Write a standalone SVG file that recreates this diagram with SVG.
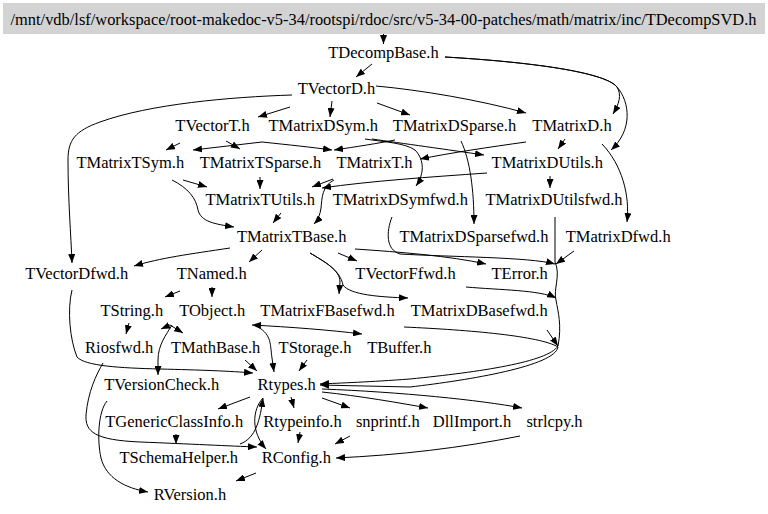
<svg xmlns="http://www.w3.org/2000/svg" width="768" height="514" viewBox="0 0 768 514">
<style>
text{font-family:"Liberation Serif","Times New Roman",serif;font-size:16.5px;fill:#000;text-anchor:middle}
.e{fill:none;stroke:#000;stroke-width:1;marker-end:url(#a)}
</style>
<defs>
<marker id="a" viewBox="0 0 9 7" refX="9" refY="3.5" markerWidth="9" markerHeight="7" markerUnits="userSpaceOnUse" orient="auto-start-reverse">
<path d="M0,0 L9,3.5 L0,7 z" fill="#000"/>
</marker>
</defs>
<rect width="768" height="514" fill="#fff"/>
<g id="n0"><rect x="3" y="3" width="762" height="31" fill="#d3d3d3"/><text x="383.5" y="24.5" textLength="746" lengthAdjust="spacingAndGlyphs">/mnt/vdb/lsf/workspace/root-makedoc-v5-34/rootspi/rdoc/src/v5-34-00-patches/math/matrix/inc/TDecompSVD.h</text></g>
<g id="n1"><text x="383.5" y="57.5">TDecompBase.h</text></g>
<g id="n2"><text x="336.5" y="94.4">TVectorD.h</text></g>
<g id="n3"><text x="212.5" y="131.3">TVectorT.h</text></g>
<g id="n4"><text x="323.3" y="131.3">TMatrixDSym.h</text></g>
<g id="n5"><text x="454.5" y="131.3">TMatrixDSparse.h</text></g>
<g id="n6"><text x="572" y="131.3">TMatrixD.h</text></g>
<g id="n7"><text x="130.3" y="168.2">TMatrixTSym.h</text></g>
<g id="n8"><text x="260.5" y="168.2">TMatrixTSparse.h</text></g>
<g id="n9"><text x="374.5" y="168.2">TMatrixT.h</text></g>
<g id="n10"><text x="547.3" y="168.2">TMatrixDUtils.h</text></g>
<g id="n11"><text x="260.3" y="205.1">TMatrixTUtils.h</text></g>
<g id="n12"><text x="400.3" y="205.1">TMatrixDSymfwd.h</text></g>
<g id="n13"><text x="554" y="205.1">TMatrixDUtilsfwd.h</text></g>
<g id="n14"><text x="291.7" y="242">TMatrixTBase.h</text></g>
<g id="n15"><text x="474" y="242">TMatrixDSparsefwd.h</text></g>
<g id="n16"><text x="618.2" y="242">TMatrixDfwd.h</text></g>
<g id="n17"><text x="76.7" y="278.9">TVectorDfwd.h</text></g>
<g id="n18"><text x="211.7" y="278.9">TNamed.h</text></g>
<g id="n19"><text x="405.5" y="278.9">TVectorFfwd.h</text></g>
<g id="n20"><text x="519.7" y="278.9">TError.h</text></g>
<g id="n21"><text x="131.8" y="315.8">TString.h</text></g>
<g id="n22"><text x="212.2" y="315.8">TObject.h</text></g>
<g id="n23"><text x="327.5" y="315.8">TMatrixFBasefwd.h</text></g>
<g id="n24"><text x="479.2" y="315.8">TMatrixDBasefwd.h</text></g>
<g id="n25"><text x="119.2" y="352.7">Riosfwd.h</text></g>
<g id="n26"><text x="215.7" y="352.7">TMathBase.h</text></g>
<g id="n27"><text x="315" y="352.7">TStorage.h</text></g>
<g id="n28"><text x="399.3" y="352.7">TBuffer.h</text></g>
<g id="n29"><text x="161.7" y="389.6">TVersionCheck.h</text></g>
<g id="n30"><text x="286.7" y="389.6">Rtypes.h</text></g>
<g id="n31"><text x="174.2" y="426.5">TGenericClassInfo.h</text></g>
<g id="n32"><text x="302.5" y="426.5">Rtypeinfo.h</text></g>
<g id="n33"><text x="387.8" y="426.5">snprintf.h</text></g>
<g id="n34"><text x="472" y="426.5">DllImport.h</text></g>
<g id="n35"><text x="554.5" y="426.5">strlcpy.h</text></g>
<g id="n36"><text x="178.8" y="463.4">TSchemaHelper.h</text></g>
<g id="n37"><text x="296.3" y="463.4">RConfig.h</text></g>
<g id="n38"><text x="190" y="500.3">RVersion.h</text></g>
<g id="edges">
<path class="e" d="M383.5,34 L383.5,44"/>
<path class="e" d="M372,64 L356,77"/>
<path class="e" d="M445,57 C530,62 605,72 617,87 C622,95 619,104 613,114"/>
<path class="e" d="M445,57 C530,62 605,72 617,87 C630,102 633,130 611,150"/>
<path class="e" d="M292,95 C230,97 150,104 100,122 C75,131 68,140 68,160 C68,200 71,235 72,263"/>
<path class="e" d="M290,107 L258,117"/>
<path class="e" d="M332,101 L330,117"/>
<path class="e" d="M377,103 L410,115"/>
<path class="e" d="M376,86 C420,90 480,100 526,113"/>
<path class="e" d="M180,143 L166,150"/>
<path class="e" d="M226,141 L240,149"/>
<path class="e" d="M262,142 L193,150"/>
<path class="e" d="M262,142 C290,145 310,147 332,150"/>
<path class="e" d="M395,140 C380,143 355,147 334,150"/>
<path class="e" d="M372,139 C400,143 450,150 484,155"/>
<path class="e" d="M365,139 C385,142 405,143 415,150 C425,160 424,175 416,186"/>
<path class="e" d="M526,142 C490,147 450,153 420,159"/>
<path class="e" d="M565,139 L558,149"/>
<path class="e" d="M461,141 C470,160 474,190 474,224"/>
<path class="e" d="M602,144 C622,165 630,195 627,222"/>
<path class="e" d="M183,180 L207,187"/>
<path class="e" d="M172,180 C188,188 196,198 198,210 C201,222 215,224 234,227"/>
<path class="e" d="M260,177 L260,189"/>
<path class="e" d="M333,179 L312,187"/>
<path class="e" d="M487,173 C430,177 370,181 322,188"/>
<path class="e" d="M334,180 C322,186 322,198 321,208 C320,215 318,220 314,224"/>
<path class="e" d="M281,213 L273,223"/>
<path class="e" d="M550,176 L550,188"/>
<path class="e" d="M230,248 C190,254 160,258 134,266"/>
<path class="e" d="M262,250 L249,262"/>
<path class="e" d="M338,253 L357,261"/>
<path class="e" d="M355,249 C400,252 450,256 486,264"/>
<path class="e" d="M310,253 C325,262 340,270 340,282 L339,294"/>
<path class="e" d="M310,253 C325,262 340,270 343,285 C350,295 380,297 408,298"/>
<path class="e" d="M72,290 C67,310 70,340 77,357 C85,366 120,368 160,369 C200,370 230,371 253,373"/>
<path class="e" d="M180,291 L165,297"/>
<path class="e" d="M212,287 L212,297"/>
<path class="e" d="M129,323 L126,334"/>
<path class="e" d="M172,325 C166,335 158,345 158,360 L158,375"/>
<path class="e" d="M170,325 L161,329"/>
<path class="e" d="M170,325 L183,333"/>
<path class="e" style="marker-start:url(#a)" d="M252,325 C290,327 330,330 362,334"/>
<path class="e" d="M258,327 C272,335 270,345 272,358 L274,372"/>
<path class="e" d="M245,360 L257,371"/>
<path class="e" d="M307,360 L299,371"/>
<path class="e" d="M555,217 L555,262 C561,275 553,290 556,300 C558,312 562,325 558,346 C548,362 480,372 410,379 C370,382 340,383 320,384"/>
<path class="e" d="M392,217 C386,232 386,250 400,254 C450,257 530,257 555,264"/>
<path class="e" d="M574,251 L556,264"/>
<path class="e" d="M466,287 C500,290 540,290 556,298"/>
<path class="e" d="M404,327 C470,330 540,336 558,347 C555,366 470,380 410,387 L320,385"/>
<path class="e" d="M547,330 L558,346"/>
<path class="e" d="M103,363 C96,375 88,392 86,415 C85,432 95,440 140,442 C190,444 230,446 257,447"/>
<path class="e" d="M107,401 C98,412 97,440 101,458 C106,478 125,488 148,492"/>
<path class="e" d="M250,397 L218,409"/>
<path class="e" d="M291,397 L294,408"/>
<path class="e" d="M322,398 L350,408"/>
<path class="e" d="M322,392 C360,396 400,403 428,408"/>
<path class="e" d="M322,389 C400,392 480,400 522,408"/>
<path class="e" d="M176,434 L176,444"/>
<path class="e" d="M263,398 C252,410 251,432 266,449"/>
<path class="e" d="M240,444 C256,438 260,420 263,398"/>
<path class="e" d="M300,432 L298,443"/>
<path class="e" d="M350,436 L335,444"/>
<path class="e" d="M520,436 C460,448 400,455 336,458"/>
<path class="e" d="M256,473 L236,481"/>
</g>
</svg>
